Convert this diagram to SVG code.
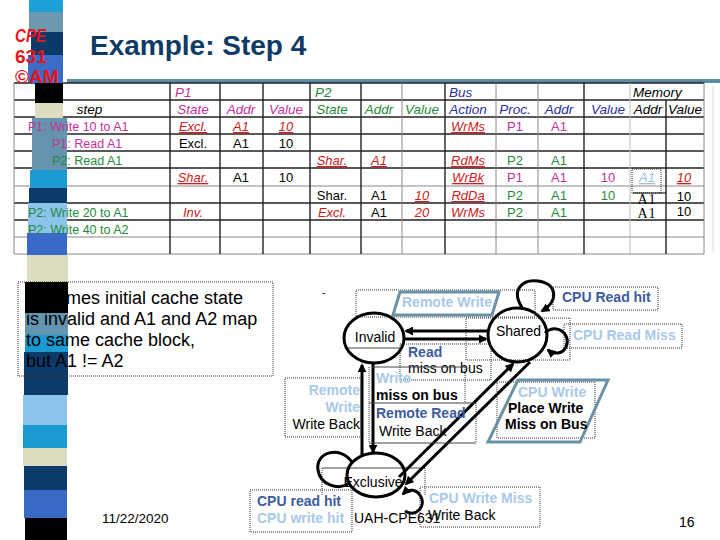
<svg xmlns="http://www.w3.org/2000/svg" width="720" height="540" viewBox="0 0 720 540">
<defs>
<style>
text{font-family:"Liberation Sans",Arial,sans-serif}
.tb text{font-size:13px;text-anchor:middle}
.tb text.h{font-size:13.5px;font-style:italic}
.tb text.s{font-size:12.5px;text-anchor:start}
.tb text.hs{font-size:13.5px;font-style:italic;text-anchor:start}
.i{font-style:italic}
.u{text-decoration:underline}
.mg{fill:#c8309a}
.gr{fill:#1f8a3c}
.rd{fill:#cc2020}
.bl{fill:#2a2fa0}
.gl{stroke:#222;stroke-width:1.4}
.gt{stroke:#888;stroke-width:1}
.dot{fill:none;stroke:#333;stroke-width:1;stroke-dasharray:1 1}
.thin{stroke:#444;stroke-width:1}
.edge{fill:none;stroke:#000;stroke-width:3}
.node{fill:none;stroke:#000;stroke-width:3}
.para{fill:none;stroke:#6a92a4;stroke-width:3}
.lb{font-size:14px;font-weight:bold}
.rg{font-size:14px}
.lt{fill:#a9c9ea}
.dk{fill:#3d5c9c}
</style>
<marker id="ah" viewBox="0 0 10 10" refX="8" refY="5" markerWidth="9" markerHeight="9" markerUnits="userSpaceOnUse" orient="auto"><path d="M0,0 L10,5 L0,10 z" fill="#000"/></marker>
</defs>
<rect width="720" height="540" fill="#fff"/>

<!-- title -->
<g id="title">
<rect x="67" y="79" width="653" height="4" fill="#5b8ca2"/>
<text x="90" y="55" font-size="28" font-weight="bold" fill="#0d3b66">Example: Step 4</text>
</g>

<!-- table grid -->
<g id="table-grid">
<line class="gl" x1="14" y1="83" x2="704" y2="83"/>
<line class="gl" x1="14" y1="100" x2="704" y2="100"/>
<line class="gl" x1="14" y1="117" x2="704" y2="117"/>
<line class="gl" x1="14" y1="134" x2="704" y2="134"/>
<line class="gl" x1="14" y1="151" x2="704" y2="151"/>
<line class="gl" x1="14" y1="168" x2="704" y2="168"/>
<line class="gt" x1="14" y1="186" x2="704" y2="186"/>
<line class="gl" x1="14" y1="203" x2="704" y2="203"/>
<line class="gl" x1="14" y1="220" x2="704" y2="220"/>
<line class="gt" x1="14" y1="237" x2="704" y2="237"/>
<line class="gt" x1="14" y1="254" x2="704" y2="254"/>
<line class="gt" x1="14" y1="83" x2="14" y2="254"/>
<line class="gl" x1="170" y1="83" x2="170" y2="254"/>
<line class="gl" x1="220" y1="83" x2="220" y2="254"/>
<line class="gl" x1="263" y1="83" x2="263" y2="254"/>
<line class="gl" x1="310" y1="83" x2="310" y2="254"/>
<line class="gl" x1="361" y1="83" x2="361" y2="254"/>
<line class="gt" x1="402" y1="83" x2="402" y2="254"/>
<line class="gl" x1="445" y1="83" x2="445" y2="254"/>
<line class="gt" x1="496" y1="83" x2="496" y2="254"/>
<line class="gt" x1="538" y1="83" x2="538" y2="254"/>
<line class="gl" x1="584" y1="83" x2="584" y2="254"/>
<line x1="630" y1="83" x2="630" y2="254" stroke="#bbb" stroke-width="1"/>
<line class="gl" x1="666" y1="100" x2="666" y2="254"/>
<line class="gt" x1="704" y1="83" x2="704" y2="254"/>
<line x1="713" y1="85" x2="713" y2="252" stroke="#ddd" stroke-width="1"/>
<rect class="dot" x="632" y="169" width="29" height="24"/>
<line x1="633" y1="193" x2="666" y2="193" stroke="#000" stroke-width="1.2"/>
</g>

<!-- decorative strip -->
<g id="strip">
<rect x="29" y="0" width="34" height="12" fill="#1ba0d8"/>
<rect x="29" y="12" width="34" height="20" fill="#6c98b0"/>
<rect x="31" y="32" width="32" height="23" fill="#0b3a68"/>
<rect x="28" y="55" width="35" height="28" fill="#3a6cc8"/>
<rect x="35" y="83" width="28" height="20" fill="#000"/>
<rect x="35" y="103" width="28" height="15" fill="#dcdcc0"/>
<rect x="32" y="118" width="35" height="52" fill="#6494ae"/>
<rect x="30" y="170" width="37" height="18" fill="#1b9ad2"/>
<rect x="29" y="188" width="38" height="15" fill="#0c3b6a"/>
<rect x="28" y="203" width="39" height="30" fill="#8cc4ec"/>
<rect x="27" y="233" width="40" height="22" fill="#3a6ac8"/>
<rect x="27" y="255" width="41" height="27" fill="#dcdcc0"/>
<rect x="25" y="282" width="43" height="31" fill="#000"/>
<rect x="25" y="313" width="43" height="22" fill="#6494ae"/>
<rect x="25" y="335" width="43" height="17" fill="#1b9ad2"/>
<rect x="24" y="352" width="44" height="43" fill="#0c3b6a"/>
<rect x="23" y="395" width="44" height="30" fill="#8cc4ec"/>
<rect x="23" y="425" width="44" height="23" fill="#1b9ad2"/>
<rect x="23" y="448" width="44" height="18" fill="#dcdcc0"/>
<rect x="24" y="466" width="43" height="24" fill="#0c3b6a"/>
<rect x="24" y="490" width="43" height="28" fill="#3a6ac8"/>
<rect x="25" y="518" width="42" height="22" fill="#000"/>
</g>

<g id="logo" font-weight="bold" font-size="19" fill="#e8141c">
<text x="15" y="42" font-style="italic" textLength="31" lengthAdjust="spacingAndGlyphs">CPE</text>
<text x="15" y="63">631</text>
<text x="15" y="83">©AM</text>
</g>

<!-- table texts -->
<g id="table-text" class="tb">
<text class="hs mg" x="175" y="97">P1</text>
<text class="hs gr" x="315" y="97">P2</text>
<text class="hs bl" x="449" y="97">Bus</text>
<text class="hs" x="633" y="97">Memory</text>

<text class="h" x="89.5" y="114">step</text>
<text class="h mg" x="193" y="114">State</text>
<text class="h mg" x="241" y="114">Addr</text>
<text class="h mg" x="286" y="114">Value</text>
<text class="h gr" x="332" y="114">State</text>
<text class="h gr" x="379" y="114">Addr</text>
<text class="h gr" x="422" y="114">Value</text>
<text class="h bl" x="468" y="114">Action</text>
<text class="h bl" x="515" y="114">Proc.</text>
<text class="h bl" x="559" y="114">Addr</text>
<text class="h bl" x="608" y="114">Value</text>
<text class="h" x="648" y="114">Addr</text>
<text class="h" x="685" y="114">Value</text>

<text class="s mg" x="28" y="131">P1: Write 10 to A1</text>
<text class="rd i u" x="193" y="131">Excl.</text>
<text class="rd i u" x="241" y="131">A1</text>
<text class="rd i u" x="286" y="131">10</text>
<text class="rd i u" x="468" y="131">WrMs</text>
<text class="mg" x="515" y="131">P1</text>
<text class="mg" x="559" y="131">A1</text>

<text class="s mg" x="52" y="148">P1: Read A1</text>
<text x="193" y="148">Excl.</text>
<text x="241" y="148">A1</text>
<text x="286" y="148">10</text>

<text class="s gr" x="52" y="165">P2: Read A1</text>
<text class="rd i u" x="332" y="165">Shar.</text>
<text class="rd i u" x="379" y="165">A1</text>
<text class="rd i u" x="468" y="165">RdMs</text>
<text class="gr" x="515" y="165">P2</text>
<text class="gr" x="559" y="165">A1</text>

<text class="rd i u" x="193" y="182">Shar.</text>
<text x="241" y="182">A1</text>
<text x="286" y="182">10</text>
<text class="rd i u" x="468" y="182">WrBk</text>
<text class="mg" x="515" y="182">P1</text>
<text class="mg" x="559" y="182">A1</text>
<text class="mg" x="608" y="182">10</text>
<text class="i u" x="647" y="182" fill="#9cc0dc">A1</text>
<text class="rd i u" x="684" y="182">10</text>

<text x="332" y="200">Shar.</text>
<text x="379" y="200">A1</text>
<text class="rd i u" x="422" y="200">10</text>
<text class="rd i u" x="468" y="200">RdDa</text>
<text class="gr" x="515" y="200">P2</text>
<text class="gr" x="559" y="200">A1</text>
<text class="gr" x="608" y="200">10</text>
<text x="647" y="204" style="font-family:'Liberation Serif',serif;font-size:14px" letter-spacing="1">A1</text>
<text x="684" y="201">10</text>

<text class="s gr" x="28" y="217">P2: Write 20 to A1</text>
<text class="rd i" x="193" y="217">Inv.</text>
<text class="rd i" x="332" y="217">Excl.</text>
<text x="379" y="217">A1</text>
<text class="rd i" x="422" y="217">20</text>
<text class="rd i" x="468" y="217">WrMs</text>
<text class="gr" x="515" y="217">P2</text>
<text class="gr" x="559" y="217">A1</text>
<text x="647" y="218" style="font-family:'Liberation Serif',serif;font-size:14px" letter-spacing="1">A1</text>
<text x="684" y="216">10</text>

<text class="s gr" x="28" y="234">P2: Write 40 to A2</text>
</g>

<!-- note box -->
<g id="note">
<rect class="dot" x="18" y="282" width="255" height="94"/>
<g font-size="18" fill="#000">
<text x="26" y="304">Assumes initial cache state</text>
<text x="26" y="325">is invalid and A1 and A2 map</text>
<text x="26" y="346">to same cache block,</text>
<text x="26" y="367">but A1 !=  A2</text>
</g>
</g>

<!-- state nodes -->
<g id="invalid">
<line class="thin" x1="347" y1="348" x2="402" y2="348"/>
<ellipse class="node" cx="374" cy="338" rx="30" ry="25"/>
<text class="rg" x="375" y="342" text-anchor="middle">Invalid</text>
</g>
<g id="shared">
<rect class="dot" x="466" y="318" width="104" height="42"/>
<ellipse class="node" cx="517.5" cy="335" rx="29.5" ry="27"/>
<text class="rg" x="518.5" y="336" text-anchor="middle">Shared</text>
</g>
<g id="exclusive">
<line class="thin" x1="322" y1="468" x2="425" y2="468"/>
<line class="dot" x1="322" y1="468" x2="322" y2="496"/>
<line class="dot" x1="425" y1="468" x2="425" y2="496"/>
<ellipse class="node" cx="376" cy="475" rx="29" ry="22"/>
<text class="rg" x="373" y="487" text-anchor="middle">Exclusive</text>
</g>

<!-- connectors -->
<g id="connectors">
<line class="edge" x1="487" y1="331" x2="406" y2="331" marker-end="url(#ah)"/>
<line class="edge" x1="403" y1="339" x2="486" y2="339" marker-end="url(#ah)"/>
<line class="edge" x1="362" y1="456" x2="362" y2="365" marker-end="url(#ah)"/>
<line class="edge" x1="373" y1="364" x2="373" y2="452" marker-end="url(#ah)"/>
<line class="edge" x1="399" y1="477" x2="513" y2="364" marker-end="url(#ah)"/>
<line class="edge" x1="530" y1="362" x2="406" y2="484" marker-end="url(#ah)"/>
<path class="edge" d="M523 309 C510 290 522 279 538 281 C556 283 560 300 542 311" marker-end="url(#ah)"/>
<path class="edge" d="M545 333 C556 322 572 334 566 347 C562 355 553 354 548 350" marker-end="url(#ah)"/>
<path class="edge" d="M352 462 C340 445 315 452 318 470 C320 485 338 490 348 484"/>
<path class="edge" d="M405 511 C416 518 426 506 421 497 C417 489 409 488 403 494" marker-end="url(#ah)"/>
</g>

<!-- labels -->
<g id="labels">
<text x="322" y="296" font-size="10">-</text>
<rect class="dot" x="356" y="290" width="179" height="27"/>
<polygon class="para" points="400,292 499,292 492,315 393,315"/>
<text class="lb lt" x="402" y="307">Remote Write</text>

<rect class="dot" x="400" y="344" width="91" height="36"/>
<text class="lb dk" x="408" y="357">Read</text>
<text class="rg" x="408" y="373">miss on bus</text>

<rect class="dot" x="285" y="378" width="76" height="59"/>
<text class="lb lt" x="360" y="395" text-anchor="end">Remote</text>
<text class="lb lt" x="360" y="412" text-anchor="end">Write</text>
<text class="rg" x="360" y="429" text-anchor="end">Write Back</text>

<line class="dot" x1="369" y1="367" x2="369" y2="443"/>
<line class="thin" x1="372" y1="367" x2="465" y2="367"/>
<line class="dot" x1="465" y1="367" x2="465" y2="403"/>
<line class="thin" x1="369" y1="403" x2="476" y2="403"/>
<line class="dot" x1="476" y1="403" x2="476" y2="443"/>
<line class="thin" x1="369" y1="443" x2="476" y2="443"/>
<text class="lb lt" x="376" y="383">Write</text>
<text class="lb" x="376" y="400">miss on bus</text>
<text class="lb dk" x="376" y="418">Remote Read</text>
<text class="rg" x="379" y="436">Write Back</text>

<rect class="dot" x="497" y="382" width="98" height="56"/>
<polygon class="para" points="518,380 608,380 580,442 488,442"/>
<text class="lb lt" x="518" y="397">CPU Write</text>
<text class="lb" x="508" y="413">Place Write</text>
<text class="lb" x="505" y="429">Miss on Bus</text>

<rect class="dot" x="553" y="287" width="105" height="23"/>
<text class="lb dk" x="562" y="302">CPU Read hit</text>
<rect class="dot" x="564" y="324" width="118" height="24"/>
<text class="lb lt" x="573" y="340">CPU Read Miss</text>

<rect class="dot" x="250" y="490" width="102" height="42"/>
<text class="lb dk" x="257" y="506">CPU read hit</text>
<text class="lb lt" x="257" y="523">CPU write hit</text>

<text class="rg" x="354" y="523">UAH-CPE631</text>

<rect class="dot" x="420" y="487" width="120" height="40"/>
<text class="lb lt" x="429" y="503">CPU Write Miss</text>
<text class="rg" x="428" y="520">Write Back</text>
</g>

<g id="footer">
<text x="102" y="523" font-size="13.5">11/22/2020</text>
<text x="679" y="527" font-size="14">16</text>
</g>
</svg>
